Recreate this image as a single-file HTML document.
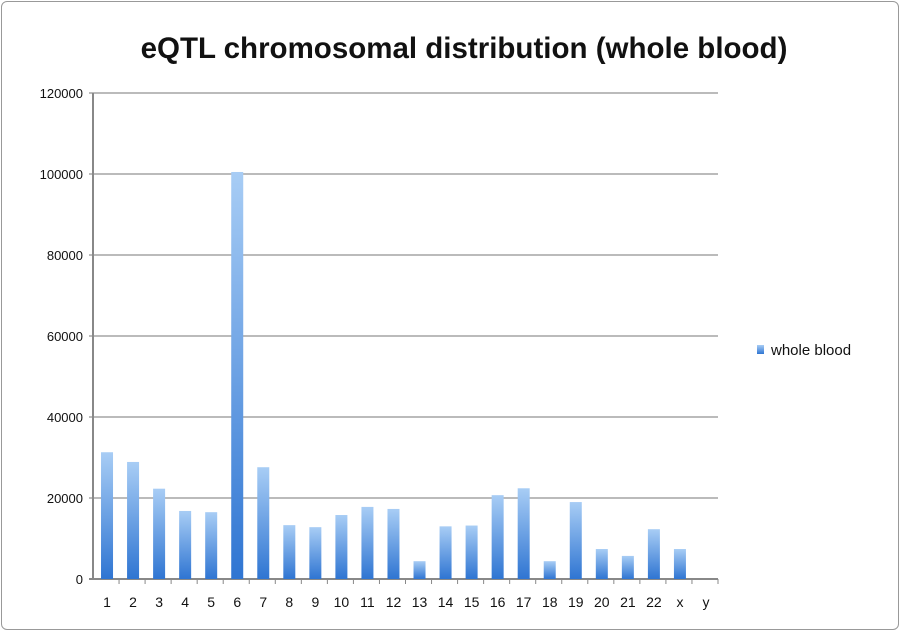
<!DOCTYPE html>
<html><head><meta charset="utf-8"><style>
body{margin:0;background:#fff;font-family:"Liberation Sans",sans-serif;}
#frame{position:absolute;left:1px;top:1px;width:896px;height:627px;border:1px solid #999;border-radius:6px;background:#fff;}
</style></head><body>
<div id="frame"></div>
<svg id="chart" width="900" height="631" style="position:absolute;left:0;top:0">
<defs><linearGradient id="bg" x1="0" y1="0" x2="0" y2="1"><stop offset="0" stop-color="#a8cdf5"/><stop offset="1" stop-color="#2f75d2"/></linearGradient></defs>
<text x="464" y="58" text-anchor="middle" font-size="29.5" font-weight="bold" fill="#111">eQTL chromosomal distribution (whole blood)</text>
<g id="plot"></g>
<g>
<rect x="757" y="345" width="7" height="9" fill="url(#bg)"/>
<text x="771" y="355" font-size="15" fill="#111">whole blood</text>
</g>
</svg>
<script>
const categories=["1","2","3","4","5","6","7","8","9","10","11","12","13","14","15","16","17","18","19","20","21","22","x","y"];
const values=[31300,28900,22300,16800,16500,100500,27600,13300,12800,15800,17800,17300,4400,13000,13200,20700,22400,4400,19000,7400,5700,12300,7400,0];
const yTicks=[0,20000,40000,60000,80000,100000,120000];
const ns="http://www.w3.org/2000/svg";
const g=document.getElementById('plot');
const x0=93,x1=718,yb=579,yt=93,ymax=120000;
const y=v=>yb-(v/ymax)*(yb-yt);
const bw=(x1-x0)/categories.length;
const xc=i=>x0+1+bw*(i+0.5);
function mk(t,a){const e=document.createElementNS(ns,t);for(const k in a)e.setAttribute(k,a[k]);g.appendChild(e);return e;}
yTicks.forEach(v=>{
 const l=mk('line',{x1:x0-4,x2:x1,y1:y(v),y2:y(v),stroke:v===0?'#888':'#bbb','stroke-width':2});
 
 
 const t=mk('text',{x:x0-10,y:y(v)+5,'text-anchor':'end','font-size':13,fill:'#111'});
 t.textContent=v;
 
 
});
const ax=mk('line',{x1:x0,x2:x0,y1:yt,y2:yb,stroke:'#888','stroke-width':2});


categories.forEach((c,i)=>{
 const r=mk('rect',{x:xc(i)-6,y:y(values[i]),width:12,height:yb-y(values[i]),fill:'url(#bg)'});
 
 
 const tk=mk('line',{x1:x0+bw*(i+1),x2:x0+bw*(i+1),y1:yb,y2:yb+5,stroke:'#888'});
 
 
 const t=mk('text',{x:xc(i),y:yb+28,'text-anchor':'middle','font-size':14,fill:'#111'});
 t.textContent=c;
 
 
});
</script>
</body></html>
